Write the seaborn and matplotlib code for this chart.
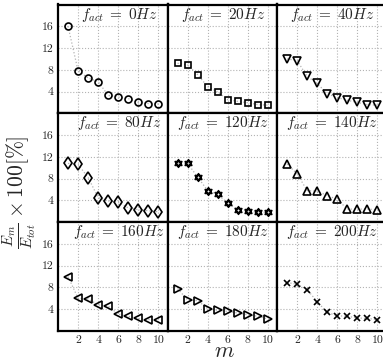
import numpy as np
import matplotlib
matplotlib.use("Agg")
import matplotlib.pyplot as plt
from matplotlib.path import Path
import seaborn as sns

# mode number and actuation frequencies
m = [1, 2, 3, 4, 5, 6, 7, 8, 9, 10]
f_act = [0, 20, 40, 80, 120, 140, 160, 180, 200]

# energy share of each mode, E_m/E_tot x 100 [%]
e_0hz = [16.0, 7.8, 6.5, 5.8, 3.3, 3.0, 2.7, 2.0, 1.8, 1.7]
e_20hz = [9.2, 8.9, 7.1, 4.9, 3.9, 2.5, 2.2, 1.95, 1.6, 1.5]
e_40hz = [10.0, 9.7, 6.8, 5.5, 3.6, 2.9, 2.4, 2.0, 1.6, 1.5]
e_80hz = [10.8, 10.6, 8.2, 4.5, 3.9, 3.7, 2.6, 2.3, 2.1, 1.9]
e_120hz = [10.8, 10.8, 8.3, 5.8, 5.1, 3.5, 2.3, 2.0, 1.8, 1.8]
e_140hz = [10.7, 8.9, 5.8, 5.7, 4.9, 4.2, 2.4, 2.4, 2.4, 2.3]
e_160hz = [10.0, 6.0, 5.9, 4.8, 4.6, 3.1, 2.7, 2.3, 2.1, 2.0]
e_180hz = [7.8, 5.7, 5.6, 4.1, 3.8, 3.6, 3.3, 3.0, 2.7, 2.2]
e_200hz = [8.9, 8.6, 7.6, 5.4, 3.4, 2.8, 2.7, 2.4, 2.3, 2.1]

series = [e_0hz, e_20hz, e_40hz, e_80hz, e_120hz, e_140hz, e_160hz, e_180hz, e_200hz]

# star of David marker (two overlapping triangles)
ang_up = np.deg2rad([90, 210, 330])
ang_dn = np.deg2rad([270, 30, 150])
verts = [(np.cos(a), np.sin(a)) for a in ang_up] + [(0, 0)]
verts += [(np.cos(a), np.sin(a)) for a in ang_dn] + [(0, 0)]
codes = [Path.MOVETO, Path.LINETO, Path.LINETO, Path.CLOSEPOLY] * 2
hexagram = Path(verts, codes)

markers = ['o', 's', 'v', 'd', hexagram, '^', '<', '>', 'x']
msizes = [5, 5, 6, 6, 5.5, 6, 6, 6, 4.5]
title_x = [0.56, 0.51, 0.5]

sns.set_style("white")
plt.rcParams['font.family'] = ['serif']
plt.rcParams['font.serif'] = ['cmr10', 'DejaVu Serif']
plt.rcParams['mathtext.fontset'] = 'cm'
plt.rcParams['axes.unicode_minus'] = False

fig, axes = plt.subplots(3, 3, figsize=(3.83, 3.62), dpi=100)
fig.subplots_adjust(left=58 / 383, right=(58 + 3 * 109.5) / 383,
                    bottom=31 / 362, top=357.5 / 362, wspace=0, hspace=0)

for i, ax in enumerate(axes.flat):
    sns.lineplot(x=m, y=series[i], ax=ax, color='0.7', linestyle=':', lw=0.9,
                 marker=markers[i], ms=msizes[i], mfc='none', mec='black',
                 mew=1.2)
    ax.set_xlim(0, 10.9)
    ax.set_ylim(0, 20)
    ax.set_xticks([2, 4, 6, 8, 10])
    ax.set_yticks([4, 8, 12, 16])
    ax.grid(True, color='0.7', linestyle=':', lw=0.8)
    ax.tick_params(length=0, pad=3, labelsize=8.5)
    for s in ax.spines.values():
        s.set_color('black')
        s.set_linewidth(1.6)
    if i % 3 != 0:
        ax.tick_params(labelleft=False)
    if i < 6:
        ax.tick_params(labelbottom=False)
    ax.text(title_x[i % 3], 0.99, rf"$f_{{act}}\;=\;{f_act[i]}Hz$",
            transform=ax.transAxes, ha='center', va='top', fontsize=11)

fig.text(0.05, 0.47, r"$\frac{E_m}{E_{tot}} \times 100[\%]$", rotation=90,
         ha='center', va='center', fontsize=15.5)
fig.text(0.585, 0.031, r"$m$", ha='center', va='center', fontsize=16)

plt.savefig("out.png", dpi=100)
